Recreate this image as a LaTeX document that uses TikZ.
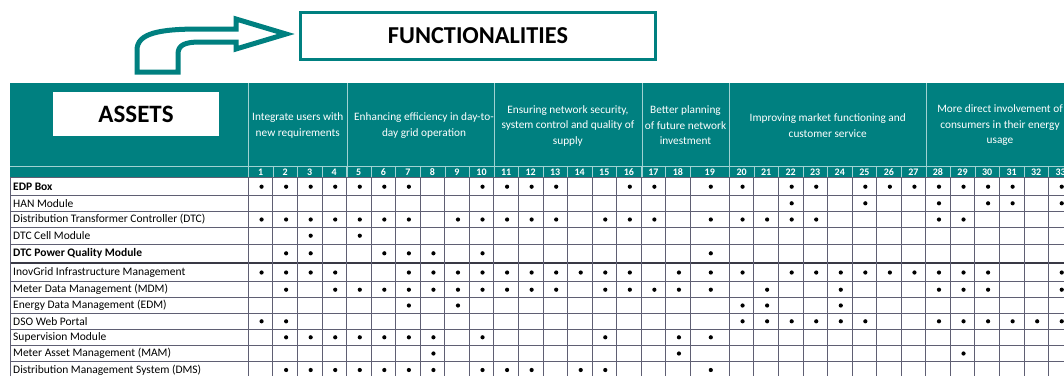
\documentclass[tikz,border=0pt]{standalone}
\usepackage{fontspec}
\setmainfont{Carlito}
\definecolor{tealhd}{RGB}{0,128,128}
\definecolor{gridln}{RGB}{95,95,115}
\definecolor{lightln}{RGB}{160,210,210}
\begin{document}
\begin{tikzpicture}[x=1pt,y=-1pt,
    hdr/.style={text=white,align=center,font=\fontsize{11.3}{15.5}\selectfont},
    num/.style={text=white,font=\fontsize{10}{10}\selectfont\bfseries},
    asset/.style={anchor=west,inner sep=0pt,font=\fontsize{11.5}{12}\selectfont}]
  \useasboundingbox (0,0) rectangle (1064,376);
  \clip (0,0) rectangle (1064,376);
  % arrow and title box
  \draw[tealhd,line width=5pt,fill=white] (137,72) -- (137,50)
    .. controls (137,33) and (160,29) .. (200,29) -- (236,29) -- (236,19)
    -- (286,34) -- (236,49) -- (236,42) -- (200,42)
    .. controls (185,42) and (178,45) .. (178,54) -- (178,72) -- cycle;
  \node[draw=tealhd,line width=3pt,fill=white,minimum width=355pt,minimum height=47pt,
    font=\fontsize{24.3}{26}\selectfont\bfseries] (func) at (478,36) {FUNCTIONALITIES};
  % header band
  \fill[tealhd] (10,83) rectangle (1064,177);
  \draw[lightln] (10,166) -- (1064,166);
  \foreach \x in {248.3,347.3,494,641.7,729.3,926}
    \draw[lightln] (\x,83) -- (\x,177);
  \node[fill=white,minimum width=166pt,minimum height=44pt,
    font=\fontsize{25}{28}\selectfont\bfseries] (assets) at (136,114) {ASSETS};
  \node[hdr] (g1) at (297.8,125.5) {Integrate users with\\new requirements};
  \begin{scope}
    \clip (347.8,83) rectangle (493.5,166);
    \node[hdr] (g2) at (424,125.5) {Enhancing efficiency in day-to-\\day grid operation};
  \end{scope}
  \node[hdr] (g3) at (567.9,125.5) {Ensuring network security,\\system control and quality of\\supply};
  \node[hdr] (g4) at (685.5,125.5) {Better planning\\of future network\\investment};
  \node[hdr] (g5) at (827.7,125.5) {Improving market functioning and\\customer service};
  \node[hdr] (g6) at (1000,125.5) {More direct involvement of\\consumers in their energy\\usage};
  % grid
  \foreach \y in {177.3,195,211.7,227.3,244,281.7,297.7,313.3,329.3,345.3,361.7}
    \draw[gridln,line width=0.8pt] (10,\y) -- (1064,\y);
  \draw[gridln!60!black,line width=1.8pt] (10,262.7) -- (1064,262.7);
  \draw[gridln,line width=0.8pt] (10,177.3) -- (10,376);
  \foreach \k in {0,...,32}{
    \pgfmathsetmacro\bx{\k<19 ? 248.3+\k*24.55 : 729.3+(\k-19)*24.55}
    \draw[lightln] (\bx,166) -- (\bx,177);
    \draw[gridln,line width=0.8pt] (\bx,177.3) -- (\bx,376);
  }
  \foreach \c in {1,...,33}{
    \pgfmathsetmacro\cx{\c<19 ? 248.3+(\c-0.5)*24.55 : (\c==19 ? 709.8 : 729.3+(\c-19.5)*24.55)}
    \node[num] (n\c) at (\cx,171.8) {\c};
  }
  % assets and their functionalities
  \foreach \i/\ry/\name/\cols in {
      1/186.7/\textbf{EDP Box}/{1,2,3,4,5,6,7,10,11,12,13,16,17,19,20,22,23,25,26,27,28,29,30,31,33},
      2/203.3/HAN Module/{22,25,28,30,31,33},
      3/219.5/{Distribution Transformer Controller (DTC)}/{1,2,3,4,5,6,7,9,10,11,12,13,15,16,17,19,20,21,22,23,28,29},
      4/235.7/DTC Cell Module/{3,5},
      5/253.3/\textbf{DTC Power Quality Module}/{2,3,6,7,8,10,19},
      6/272.5/InovGrid Infrastructure Management/{1,2,3,4,7,8,9,10,11,12,13,14,15,16,18,19,20,22,23,24,25,26,27,28,29,30,33},
      7/289.7/{Meter Data Management (MDM)}/{2,4,5,6,7,8,9,10,11,12,13,15,16,17,18,19,21,24,28,29,30,33},
      8/305.5/{Energy Data Management (EDM)}/{7,9,20,21,24},
      9/321.3/DSO Web Portal/{1,2,20,21,22,23,24,25,28,29,30,31,32,33},
      10/337.3/Supervision Module/{2,3,4,5,6,7,8,10,15,18,19},
      11/353.5/{Meter Asset Management (MAM)}/{8,18,29},
      12/370/{Distribution Management System (DMS)}/{2,3,4,5,6,7,8,10,11,12,14,15,19}}{
    \node[asset] (r\i) at (13,\ry) {\name};
    \foreach \c in \cols {
      \pgfmathsetmacro\cx{\c<19 ? 249.3+(\c-0.5)*24.55 : (\c==19 ? 710.8 : 730.3+(\c-19.5)*24.55)}
      \fill (\cx,\ry) circle (2.1pt);
    }
  }
\end{tikzpicture}
\end{document}
